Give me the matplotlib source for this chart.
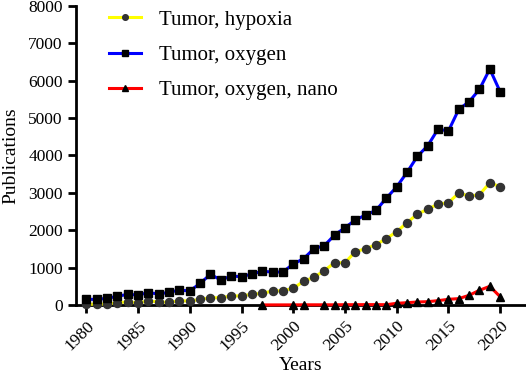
import numpy as np
import matplotlib
matplotlib.use("Agg")
import matplotlib.pyplot as plt

plt.rcParams['font.family'] = ['Liberation Serif', 'DejaVu Serif']

# Get data
years = list(range(1980, 2021))

hypoxia = [20, 20, 25, 60, 85, 60, 105, 85, 70, 115,
           105, 150, 195, 195, 240, 245, 285, 312, 374, 383,
           446, 634, 740, 918, 1132, 1132, 1425, 1506, 1613, 1775,
           1961, 2202, 2433, 2559, 2701, 2736, 2995, 2915, 2950, 3270,
           3163]

oxygen = [152, 150, 179, 232, 285, 267, 330, 294, 339, 400,
          374, 579, 820, 668, 775, 757, 829, 900, 882, 882,
          1096, 1238, 1506, 1586, 1872, 2068, 2273, 2407, 2532, 2858,
          3160, 3548, 3976, 4260, 4706, 4653, 5233, 5437, 5768, 6311,
          5705]

nano_years = [1997, 2000, 2001] + list(range(2003, 2021))
nano = [2, 3, 5, 5, 5, 8, 8, 10, 10, 8,
        45, 62, 80, 89, 116, 152, 170, 259, 393, 500,
        222]

labels = ['Tumor, hypoxia', 'Tumor, oxygen', 'Tumor, oxygen, nano']

fig = plt.figure(figsize=(5.26, 3.81), dpi=100)
ax = fig.add_axes([0.1445, 0.1995, 0.8555, 0.785])

ax.plot(years, hypoxia, color='#ffff00', lw=2.2, marker='o', ms=5.8,
        mfc='#333333', mec='#333333', clip_on=False, zorder=5, label=labels[0])
ax.plot(years, oxygen, color='#0000ff', lw=2.2, marker='s', ms=5.8,
        mfc='black', mec='black', clip_on=False, zorder=5, label=labels[1])
ax.plot(nano_years, nano, color='#ff0000', lw=2.2, marker='^', ms=5.2,
        mfc='black', mec='black', clip_on=False, zorder=6, label=labels[2])

ax.set_xlim(1979, 2022.5)
ax.set_ylim(0, 8000)
ax.set_xticks(range(1980, 2021, 5))
ax.set_yticks(range(0, 8001, 1000))

for side in ['top', 'right']:
    ax.spines[side].set_visible(False)
for side in ['left', 'bottom']:
    ax.spines[side].set_linewidth(2)

ax.tick_params(axis='both', width=2, length=6, labelsize=12.5, direction='out')
for lab in ax.get_xticklabels():
    lab.set_rotation(45)
    lab.set_ha('right')
    lab.set_rotation_mode('anchor')

ax.set_xlabel('Years', fontsize=14, labelpad=2)
ax.set_ylabel('Publications', fontsize=14, labelpad=6)

leg = ax.legend(loc='upper left', bbox_to_anchor=(109 / 526, 1 - 10 / 381),
                bbox_transform=fig.transFigure, frameon=False,
                fontsize=15, handlelength=1.55, labelspacing=0.76,
                handletextpad=0.85, markerscale=0.7,
                borderpad=0, borderaxespad=0)

fig.savefig('out.png', dpi=100)
